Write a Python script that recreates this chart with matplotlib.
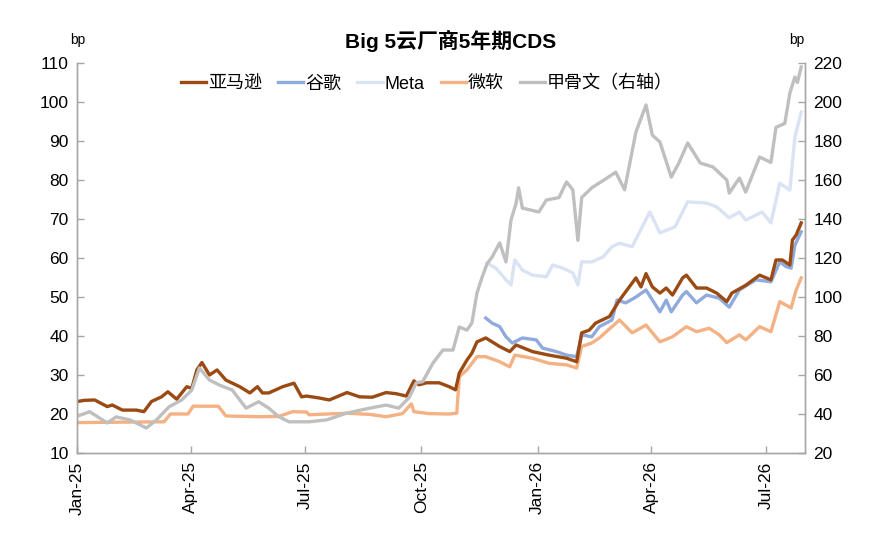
import matplotlib
matplotlib.use("Agg")
import matplotlib.pyplot as plt
import matplotlib.dates as mdates
import pandas as pd

plt.rcParams['font.family'] = ['Liberation Sans', 'Noto Sans CJK SC', 'DejaVu Sans']

# ---------------- data ----------------
amzn_dates = ['2025-01-01','2025-01-07','2025-01-15','2025-01-25','2025-01-29','2025-02-06','2025-02-17',
              '2025-02-23','2025-03-01','2025-03-09','2025-03-14','2025-03-21','2025-03-29','2025-04-02',
              '2025-04-06','2025-04-10','2025-04-16','2025-04-22','2025-04-29','2025-05-10','2025-05-18',
              '2025-05-24','2025-05-28','2025-06-02','2025-06-13','2025-06-22','2025-06-28','2025-07-02',
              '2025-07-12','2025-07-20','2025-08-03','2025-08-13','2025-08-23','2025-09-03','2025-09-11',
              '2025-09-19','2025-09-25','2025-09-29','2025-10-05','2025-10-15','2025-10-23','2025-10-28',
              '2025-10-31','2025-11-06','2025-11-10','2025-11-14','2025-11-21','2025-12-02','2025-12-10',
              '2025-12-15','2025-12-28','2026-01-10','2026-01-24','2026-02-01','2026-02-05','2026-02-11',
              '2026-02-16','2026-02-27','2026-03-07','2026-03-12','2026-03-20','2026-03-24','2026-03-28',
              '2026-04-02','2026-04-08','2026-04-13','2026-04-18','2026-04-26','2026-04-29','2026-05-07',
              '2026-05-15','2026-05-23','2026-05-31','2026-06-04','2026-06-15','2026-06-26','2026-07-05',
              '2026-07-09','2026-07-14','2026-07-20','2026-07-22','2026-07-25','2026-07-29']
amzn_vals = [23.2,23.5,23.6,21.9,22.3,21.0,21.0,
             20.6,23.2,24.4,25.7,23.8,27.0,26.6,
             31.3,33.2,30.0,31.3,28.7,27.0,25.4,
             27.0,25.4,25.4,27.0,27.9,24.4,24.6,
             24.1,23.6,25.5,24.4,24.3,25.5,25.2,
             24.6,28.5,27.5,28.0,28.0,27.0,26.2,
             30.5,33.8,35.6,38.5,39.5,37.3,36.0,
             37.7,36.0,35.1,34.3,33.4,40.8,41.5,
             43.3,45.0,49.2,51.4,54.9,52.6,56.0,
             52.6,51.0,52.3,50.5,54.9,55.6,52.3,
             52.3,51.0,48.8,51.0,53.0,55.6,54.4,
             59.5,59.5,58.2,64.6,65.9,69.0]

googl_dates = ['2025-11-21','2025-11-26','2025-12-02','2025-12-07','2025-12-12','2025-12-20','2025-12-31',
               '2026-01-05','2026-01-16','2026-01-24','2026-02-01','2026-02-05','2026-02-13','2026-02-19',
               '2026-03-01','2026-03-05','2026-03-12','2026-03-20','2026-03-28','2026-04-08','2026-04-13',
               '2026-04-17','2026-04-26','2026-04-29','2026-05-07','2026-05-15','2026-05-25','2026-06-02',
               '2026-06-10','2026-06-23','2026-07-05','2026-07-12','2026-07-17','2026-07-21','2026-07-24',
               '2026-07-29']
googl_vals = [44.6,43.3,42.4,39.8,38.2,39.5,39.0,
              36.9,36.0,35.1,34.7,40.3,39.8,42.4,
              44.1,49.2,48.5,50.0,51.8,46.2,49.2,
              46.2,50.5,51.4,48.5,50.5,49.7,47.4,
              51.8,54.4,53.9,59.0,57.8,57.4,63.3,
              66.7]

meta_dates = ['2025-11-22','2025-11-29','2025-12-07','2025-12-11','2025-12-14','2025-12-20','2025-12-28',
              '2026-01-08','2026-01-13','2026-01-21','2026-01-29','2026-02-02','2026-02-05','2026-02-13',
              '2026-02-22','2026-03-01','2026-03-07','2026-03-17','2026-03-31','2026-04-08','2026-04-20',
              '2026-04-30','2026-05-15','2026-05-23','2026-06-02','2026-06-10','2026-06-15','2026-06-28',
              '2026-07-05','2026-07-12','2026-07-20','2026-07-24','2026-07-29']
meta_vals = [58.7,57.4,54.4,53.1,59.5,56.9,55.6,
             55.2,58.2,57.4,56.2,53.1,59.0,59.0,
             60.3,62.9,63.8,62.9,71.8,66.4,68.0,
             74.4,74.1,73.1,70.3,71.8,69.7,71.8,
             69.0,79.2,77.4,91.0,97.4]

msft_dates = ['2025-01-01','2025-02-03','2025-03-11','2025-03-16','2025-03-30','2025-04-03','2025-04-23',
              '2025-04-29','2025-05-25','2025-06-10','2025-06-21','2025-07-02','2025-07-04','2025-07-18',
              '2025-08-03','2025-08-21','2025-09-03','2025-09-16','2025-09-23','2025-09-25','2025-10-07',
              '2025-10-23','2025-10-29','2025-10-31','2025-11-06','2025-11-14','2025-11-21','2025-12-02',
              '2025-12-10','2025-12-14','2025-12-28','2026-01-10','2026-01-24','2026-02-01','2026-02-05',
              '2026-02-13','2026-02-19','2026-03-01','2026-03-07','2026-03-17','2026-03-28','2026-04-08',
              '2026-04-18','2026-04-29','2026-05-07','2026-05-17','2026-05-25','2026-05-31','2026-06-10',
              '2026-06-15','2026-06-26','2026-07-05','2026-07-12','2026-07-21','2026-07-25','2026-07-29']
msft_vals = [17.8,17.9,18.0,20.0,20.0,22.0,22.0,
             19.5,19.3,19.4,20.6,20.5,19.8,20.0,
             20.2,19.9,19.3,20.1,22.6,20.6,20.1,
             20.0,20.2,29.6,31.3,34.7,34.7,33.4,
             32.1,35.1,34.3,33.0,32.6,31.8,37.3,
             38.2,39.5,42.4,44.1,40.8,42.8,38.5,
             39.8,42.4,41.1,42.0,40.3,38.3,40.3,
             39.0,42.4,41.1,48.8,47.2,51.8,54.9]

orcl_dates = ['2025-01-01','2025-01-11','2025-01-25','2025-02-01','2025-02-12','2025-02-25','2025-03-05',
              '2025-03-15','2025-03-25','2025-04-02','2025-04-08','2025-04-16','2025-04-24','2025-05-04',
              '2025-05-15','2025-05-25','2025-06-02','2025-06-10','2025-06-18','2025-07-04','2025-07-18',
              '2025-08-03','2025-08-21','2025-09-03','2025-09-13','2025-09-21','2025-09-27','2025-10-02',
              '2025-10-10','2025-10-18','2025-10-26','2025-10-31','2025-11-06','2025-11-10','2025-11-14',
              '2025-11-18','2025-11-22','2025-11-26','2025-12-02','2025-12-07','2025-12-11','2025-12-15',
              '2025-12-17','2025-12-20','2026-01-02','2026-01-08','2026-01-18','2026-01-24','2026-01-29',
              '2026-02-02','2026-02-05','2026-02-13','2026-02-25','2026-03-04','2026-03-11','2026-03-20',
              '2026-03-28','2026-04-02','2026-04-08','2026-04-17','2026-04-23','2026-04-30','2026-05-10',
              '2026-05-20','2026-05-31','2026-06-02','2026-06-10','2026-06-15','2026-06-26','2026-07-05',
              '2026-07-09','2026-07-16','2026-07-20','2026-07-24','2026-07-26','2026-07-29']
orcl_vals = [38.8,41.2,35.4,38.5,37.0,32.8,37.0,
             43.7,47.2,52.3,63.6,57.4,54.8,52.3,
             43.0,46.3,43.0,38.6,36.0,36.0,37.0,
             40.5,43.0,44.6,43.0,48.2,56.0,56.6,
             66.0,72.8,72.8,84.6,83.0,86.7,102.0,
             110.0,117.0,120.5,127.7,118.0,139.5,148.0,
             156.0,145.6,143.6,149.7,151.0,159.0,154.9,
             129.0,151.0,156.0,161.0,164.0,155.0,184.6,
             198.5,183.0,179.5,161.5,168.7,179.0,168.7,
             166.7,160.0,153.3,161.0,153.8,171.8,169.0,
             187.0,189.0,204.6,212.8,210.0,218.0]

labels = ['亚马逊', '谷歌', 'Meta', '微软', '甲骨文（右轴）']
colors = ['#9A4A12', '#8FAADC', '#DAE3F3', '#F4B183', '#BFBFBF']
xtick_dates = ['2025-01-01','2025-04-01','2025-07-01','2025-10-01','2026-01-01','2026-04-01','2026-07-01']
left_ticks = list(range(10, 111, 10))
right_ticks = list(range(20, 221, 20))

# ---------------- figure ----------------
fig = plt.figure(figsize=(8.79, 5.45), dpi=100)
ax = fig.add_axes([77/879, 1-453/545, (805-77)/879, (453-63)/545])
ax2 = ax.twinx()

lw = 2.4
series_left = [(amzn_dates, amzn_vals), (googl_dates, googl_vals), (meta_dates, meta_vals), (msft_dates, msft_vals)]
order = [3, 2, 1, 0]  # draw msft first so amazon sits on top
lines = {}
for i in order:
    d, v = series_left[i]
    ln, = ax.plot(pd.to_datetime(d), v, color=colors[i], lw=lw, solid_joinstyle='round')
    lines[i] = ln
ln_o, = ax2.plot(pd.to_datetime(orcl_dates), orcl_vals, color=colors[4], lw=lw, solid_joinstyle='round')
lines[4] = ln_o

ax.set_xlim(pd.Timestamp('2025-01-01'), pd.Timestamp('2026-08-01'))
ax.set_ylim(10, 110)
ax2.set_ylim(20, 220)
ax.set_yticks(left_ticks)
ax2.set_yticks(right_ticks)
ax.set_xticks(pd.to_datetime(xtick_dates))
ax.xaxis.set_major_formatter(mdates.DateFormatter('%b-%y'))

spine_c = '#A6A6A6'
for a in (ax, ax2):
    a.spines['top'].set_visible(False)
    for s in ('left', 'right', 'bottom'):
        a.spines[s].set_color(spine_c)
        a.spines[s].set_linewidth(1.0)
    a.tick_params(direction='in', length=5, width=1.0, color=spine_c, labelsize=12.5, labelcolor='black')
ax.tick_params(axis='x', rotation=90, pad=6)
ax.tick_params(axis='y', pad=6)
ax2.tick_params(axis='y', pad=6)

fig.text(451/879, 1-41/545, 'Big 5云厂商5年期CDS', ha='center', va='center', fontsize=15, fontweight='bold')
fig.text(78/879, 1-40/545, 'bp', ha='center', va='center', fontsize=10)
fig.text(797/879, 1-40/545, 'bp', ha='center', va='center', fontsize=10)

leg = ax.legend([lines[i] for i in range(5)], labels, ncol=5, frameon=False,
                loc='center', bbox_to_anchor=((427-77)/728, (453-84)/390),
                fontsize=13, handlelength=1.4, handletextpad=0.1, columnspacing=0.9,
                borderaxespad=0)

fig.savefig('out.png', dpi=100)
